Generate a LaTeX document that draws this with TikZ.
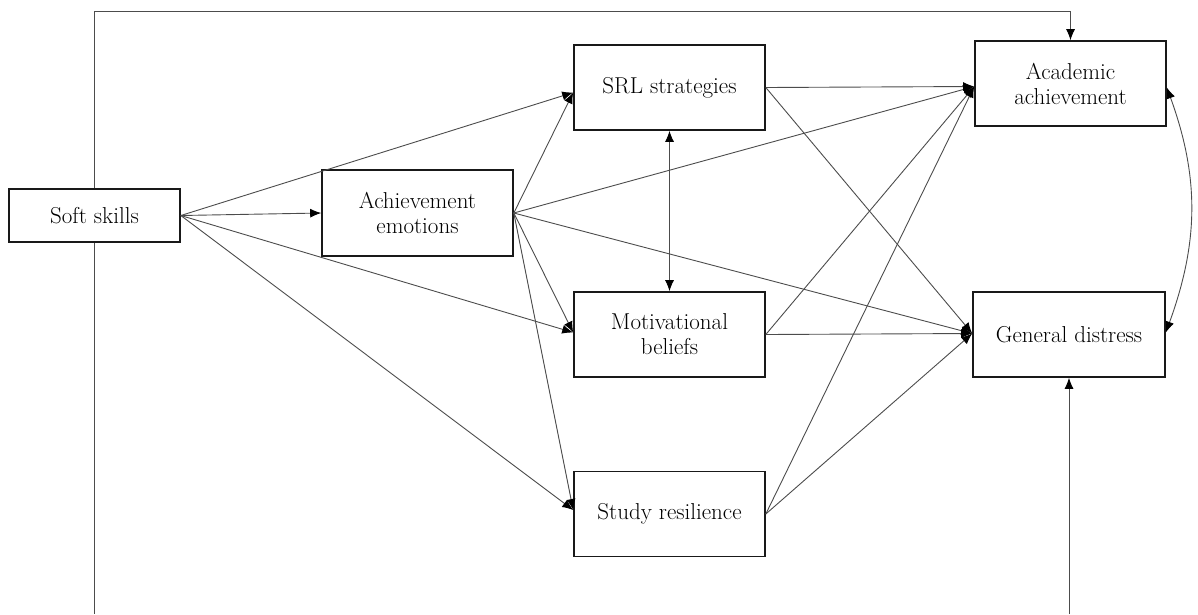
\documentclass[tikz,border=0pt]{standalone}
\usetikzlibrary{arrows.meta,calc}
\begin{document}
\begin{tikzpicture}[x=1pt,y=-1pt,
  box/.style={draw=black!90, line width=1.6pt, align=center, inner sep=0pt,
    minimum width=191pt, minimum height=85pt, font=\fontsize{23}{25}\selectfont},
  conn/.style={draw=black!70, line width=0.9pt},
  tip/.tip={Latex[length=11pt,width=9pt,color=black]},
  arr/.style={conn,-tip},
  darr/.style={conn,tip-tip}]
\useasboundingbox (0,0) rectangle (1198,614);
\node[box, minimum width=171pt, minimum height=53pt] (soft) at (94.5,215.5) {Soft skills};
\node[box, minimum height=86pt] (ae) at (417.5,213) {Achievement\\emotions};
\node[box] (srl) at (669.5,87.5) {SRL strategies};
\node[box] (mot) at (669.5,334.5) {Motivational\\beliefs};
\node[box] (sr) at (669.5,514) {Study resilience};
\node[box] (ac) at (1070.5,83.5) {Academic\\achievement};
\node[box, minimum width=192pt] (gd) at (1069,334.5) {General distress};
\coordinate (top) at (0,11);
\coordinate (bot) at (0,614);
% frame lines
\draw[arr] (soft.north) -- (soft.north |- top) -| (ac.north);
\draw[conn] (soft.south) -- (soft.south |- bot);
\draw[arr] (gd.south |- bot) -- (gd.south);
% soft skills
\draw[arr] (soft.east) -- ([yshift=-5pt]srl.west);
\draw[arr] (soft.east) -- (ae.west);
\draw[arr] (soft.east) -- ([yshift=2pt]mot.west);
\draw[arr] (soft.east) -- ([yshift=4pt]sr.west);
% achievement emotions
\draw[arr] (ae.east) -- ([yshift=-5pt]srl.west);
\draw[arr] (ae.east) -- ([yshift=2pt]mot.west);
\draw[arr] (ae.east) -- ([yshift=4pt]sr.west);
\draw[arr] (ae.east) -- ([yshift=-3pt]ac.west);
\draw[arr] (ae.east) -- ([yshift=1pt]gd.west);
% mediators
\draw[darr] (srl.south) -- (mot.north);
\draw[arr] (srl.east) -- ([yshift=-3pt]ac.west);
\draw[arr] (srl.east) -- ([yshift=1pt]gd.west);
\draw[arr] (mot.east) -- ([yshift=-3pt]ac.west);
\draw[arr] (mot.east) -- ([yshift=1pt]gd.west);
\draw[arr] (sr.east) -- ([yshift=-3pt]ac.west);
\draw[arr] (sr.east) -- ([yshift=1pt]gd.west);
% outcomes covariance
\draw[darr] ([yshift=-4pt]ac.east) to[out=-70,in=70] ([yshift=2pt]gd.east);
\end{tikzpicture}
\end{document}
